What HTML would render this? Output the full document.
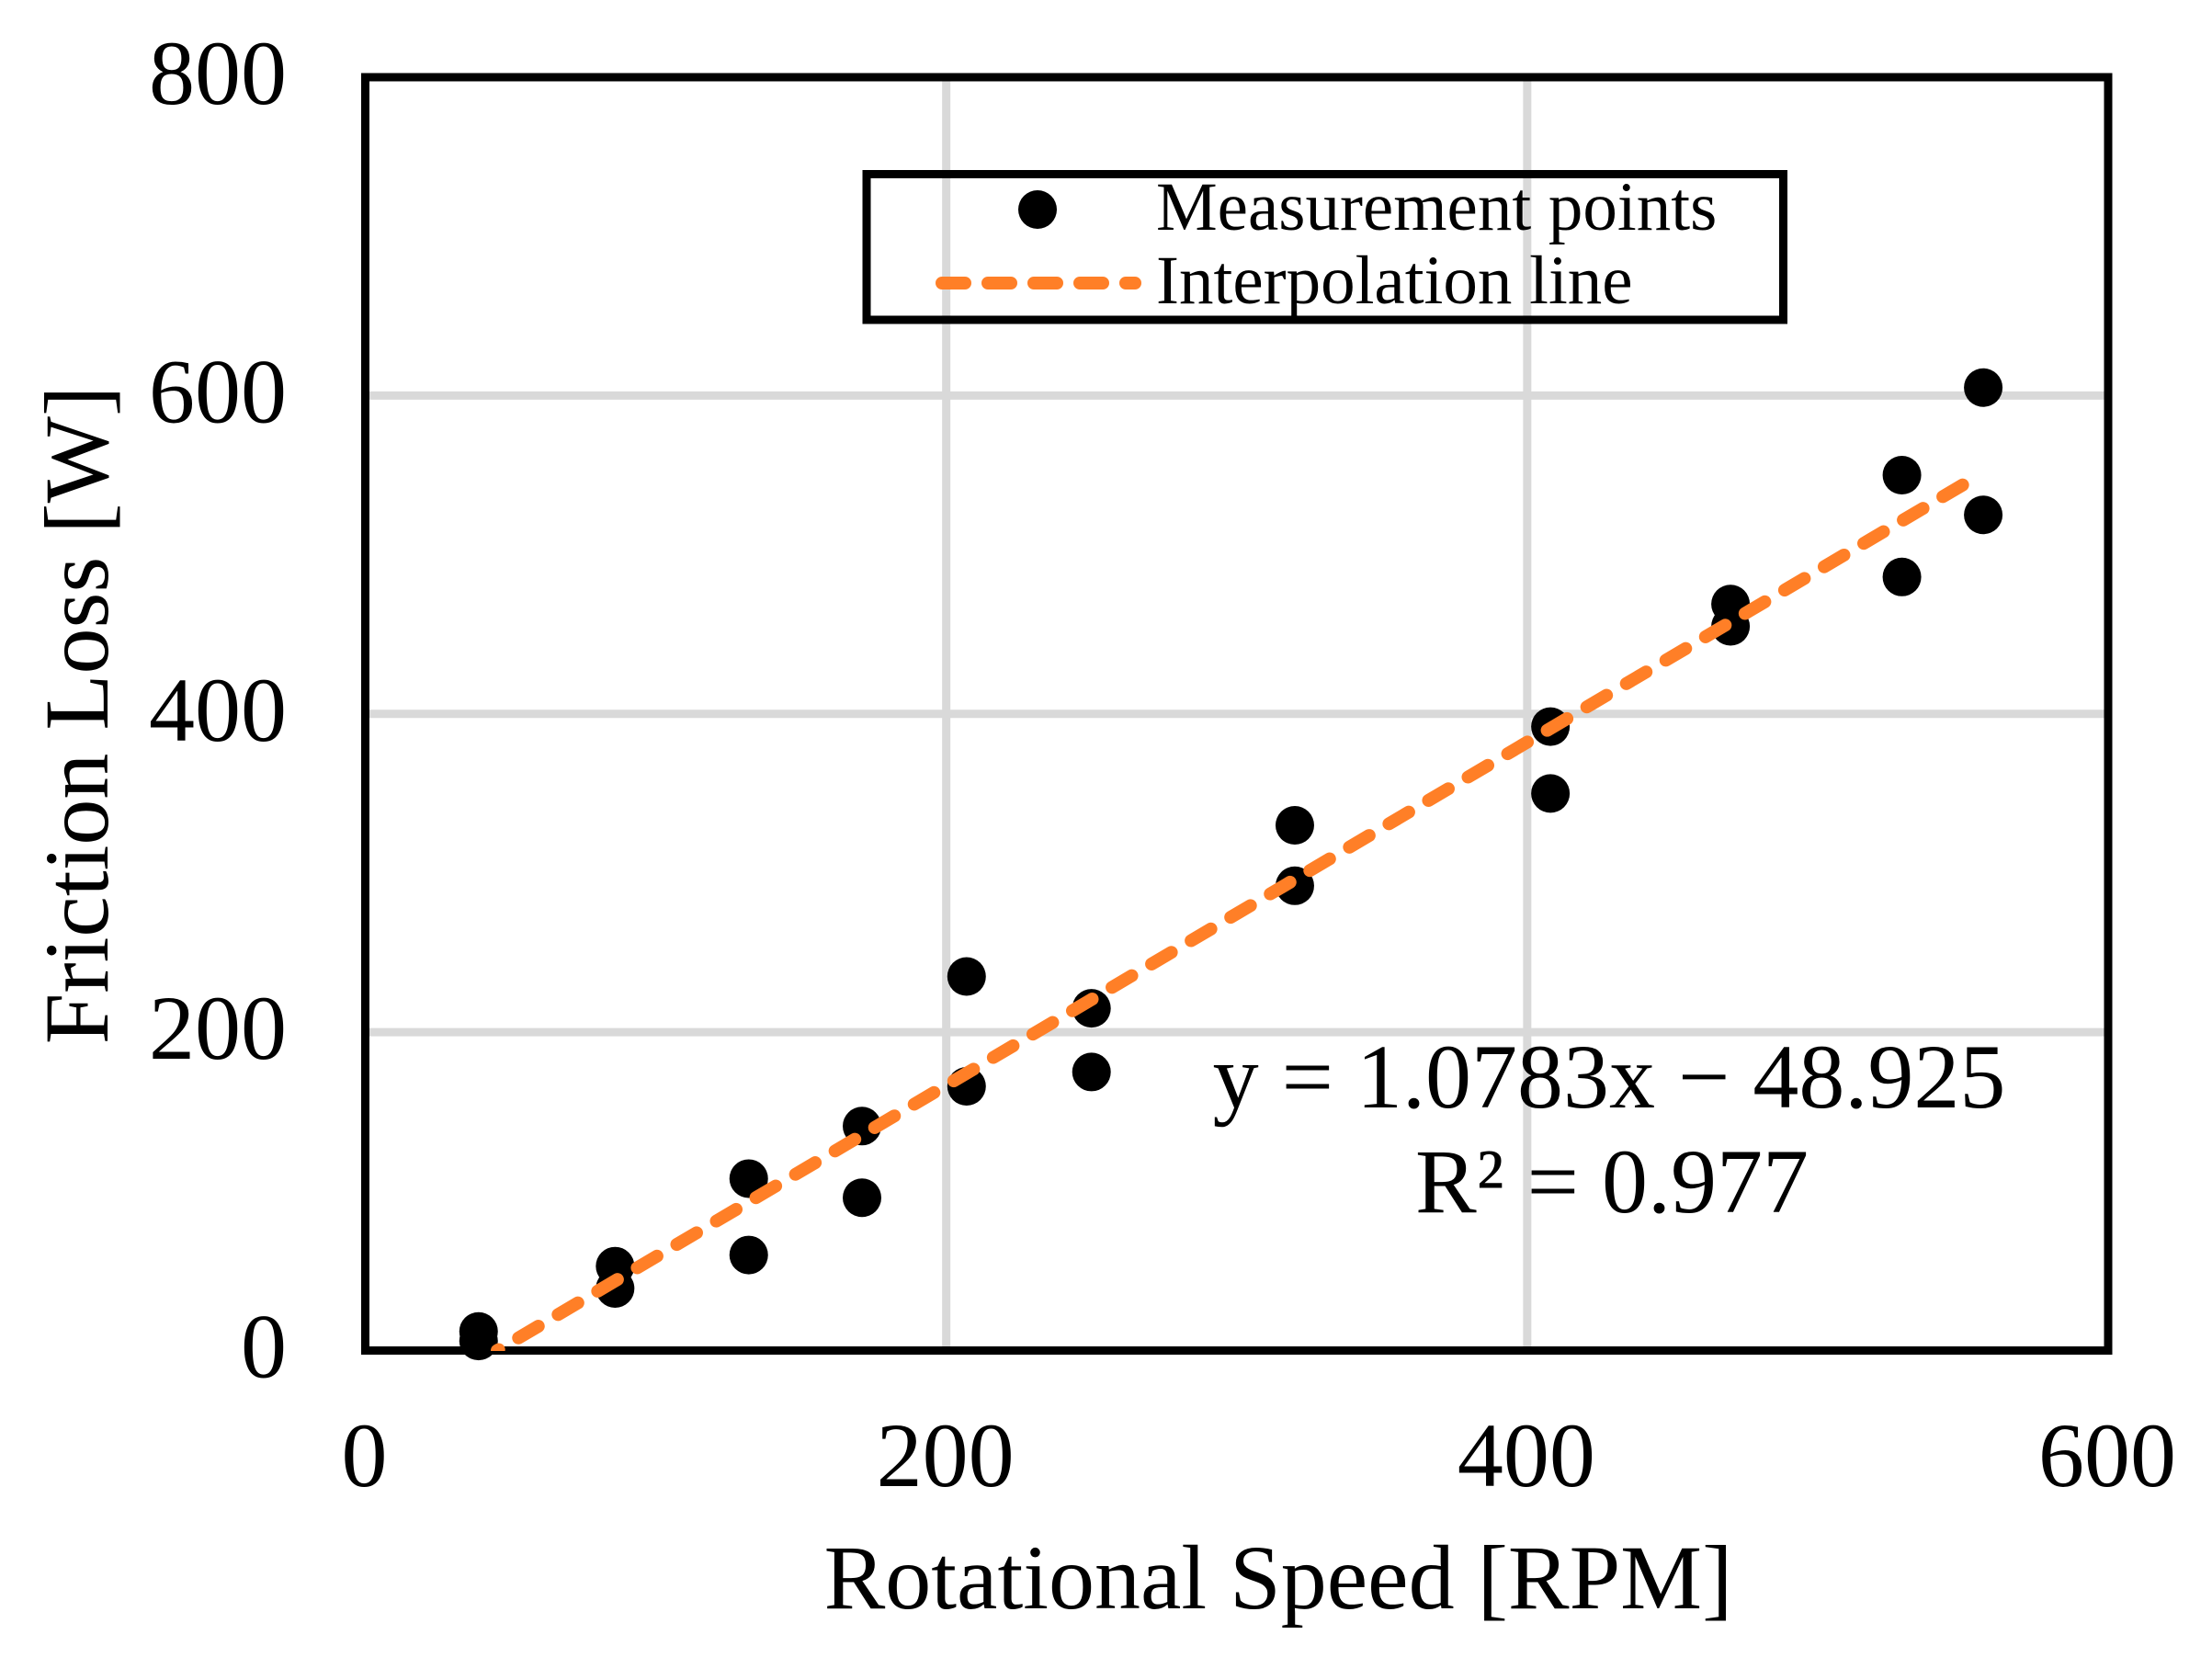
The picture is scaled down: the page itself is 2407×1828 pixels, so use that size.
<!DOCTYPE html>
<html>
<head>
<meta charset="utf-8">
<title>Friction Loss vs Rotational Speed</title>
<style>
html,body{margin:0;padding:0;background:#fff;}
svg{display:block;}
text{font-family:"Liberation Serif",serif;fill:#000;}
</style>
</head>
<body>
<svg id="chart" xmlns="http://www.w3.org/2000/svg" width="2407" height="1828" viewBox="0 0 2407 1828">
  <defs><clipPath id="plot-clip"><rect x="397.5" y="84" width="1896.5" height="1386"/></clipPath></defs>
  <rect x="0" y="0" width="2407" height="1828" fill="#fff"/>
  <g id="grid"></g>
  <rect x="943" y="189.5" width="997.5" height="158.5" fill="none" stroke="#000" stroke-width="9"/>
  <circle cx="1129" cy="228" r="21" fill="#000"/>
  <line x1="1025" y1="308" x2="1235" y2="308" stroke="#ff7f27" stroke-width="14" stroke-linecap="round" stroke-dasharray="25 25"/>
  <text x="1258" y="250" font-size="75">Measurement points</text>
  <text x="1258" y="330" font-size="75">Interpolation line</text>
  <g id="ticks"></g>
  <rect x="397.5" y="84" width="1896.5" height="1385.5" fill="none" stroke="#000" stroke-width="9"/>
  <g id="points"></g>
  <g id="fit" clip-path="url(#plot-clip)"></g>
  <text x="1391" y="1750" font-size="100" text-anchor="middle">Rotational Speed [RPM]</text>
  <text transform="translate(117 778) rotate(-90)" font-size="100" text-anchor="middle">Friction Loss [W]</text>
  <text x="1751" y="1205" font-size="100" text-anchor="middle">y = 1.0783x − 48.925</text>
  <text x="1754" y="1319" font-size="100" text-anchor="middle">R² = 0.977</text>
</svg>
<script>
const xTicks = [0, 200, 400, 600];
const yTicks = [0, 200, 400, 600, 800];
const xTickLabels = ["0", "200", "400", "600"];
const yTickLabels = ["0", "200", "400", "600", "800"];
const speedRpm = [39, 39, 86, 86, 132, 132, 171, 171, 207, 207, 250, 250, 320, 320, 408, 408, 470, 470, 529, 529, 557, 557];
const frictionLossW = [12, 6, 53, 39, 108, 60, 141, 96, 235, 166, 215, 175, 330, 292, 392, 350, 469, 455, 550, 486, 605, 525];
const fitSpeedRpm = [45.4, 551];
const fitLossW = [0, 545];

const NS = "http://www.w3.org/2000/svg";
const sx = v => 397.5 + (v / 600) * 1896.5;
const sy = v => 1469.5 - (v / 800) * 1385.5;
const mk = (parent, tag, attrs) => {
  const el = document.createElementNS(NS, tag);
  for (const k in attrs) el.setAttribute(k, attrs[k]);
  parent.appendChild(el);
  return el;
};
const grid = document.getElementById("grid");
const ticks = document.getElementById("ticks");
const points = document.getElementById("points");
const fit = document.getElementById("fit");

xTicks.forEach((t, i) => {
  if (t > 0 && t < 600) {
    const g = mk(grid, "line", {x1: sx(t), y1: sy(800), x2: sx(t), y2: sy(0), stroke: "#d9d9d9", "stroke-width": 9});
    
    
  }
  const l = mk(ticks, "text", {x: sx(t) - 1, y: 1617, "font-size": 100, "text-anchor": "middle"});
  l.textContent = xTickLabels[i];
  
  
});
yTicks.forEach((t, i) => {
  if (t > 0 && t < 800) {
    const g = mk(grid, "line", {x1: sx(0), y1: sy(t), x2: sx(600), y2: sy(t), stroke: "#d9d9d9", "stroke-width": 9});
    
    
  }
  const l = mk(ticks, "text", {x: 312, y: sy(t) + 29, "font-size": 100, "text-anchor": "end"});
  l.textContent = yTickLabels[i];
  
  
});
speedRpm.forEach((v, i) => {
  const c = mk(points, "circle", {cx: sx(v), cy: sy(frictionLossW[i]), r: 21, fill: "#000"});
  
  
});
const fitPath = mk(fit, "path", {
  d: fitSpeedRpm.map((v, i) => (i ? "L" : "M") + sx(v) + " " + sy(fitLossW[i])).join(" "),
  fill: "none", stroke: "#ff7f27", "stroke-width": 14, "stroke-linecap": "round", "stroke-dasharray": "25 25", "stroke-dashoffset": 23
});


</script>
</body>
</html>
